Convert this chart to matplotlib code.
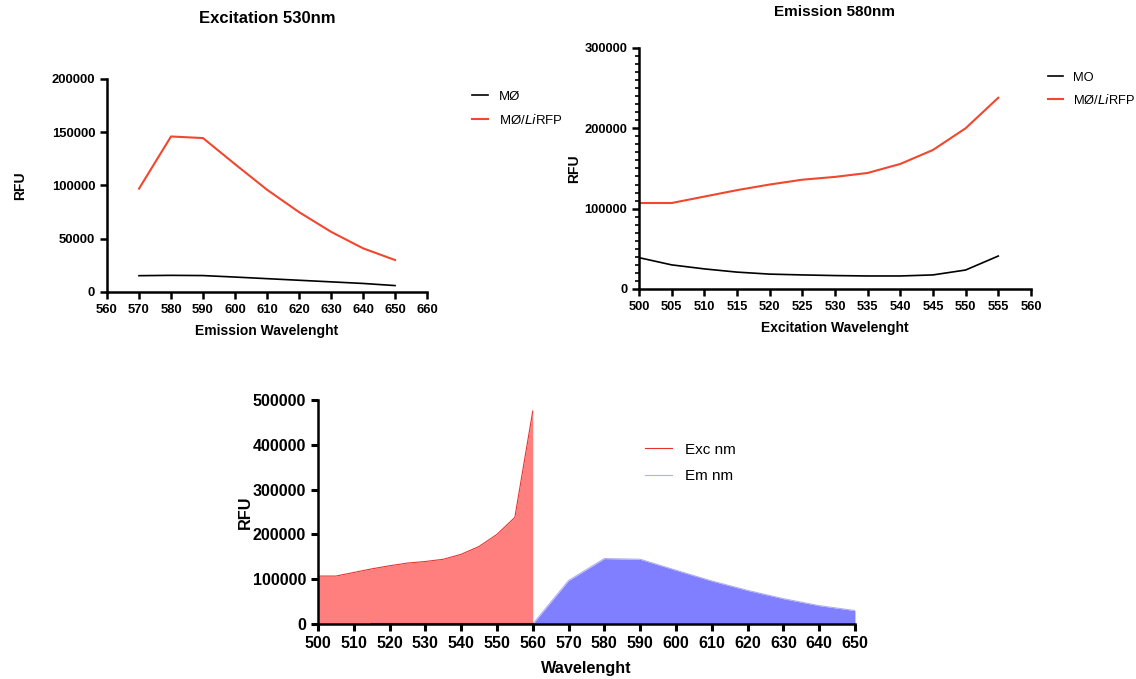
import numpy as np
import matplotlib
matplotlib.use("Agg")
import matplotlib.pyplot as plt
from matplotlib.ticker import MultipleLocator

plt.rcParams['font.family'] = ['Liberation Sans', 'DejaVu Sans']

# =========================
# DATA
# =========================
# Excitation 530nm -> emission scan
em_wl = [570, 580, 590, 600, 610, 620, 630, 640, 650]
em_mo = [15300, 15600, 15400, 14000, 12500, 11000, 9500, 8000, 6000]
em_rfp = [97000, 146000, 144500, 120000, 96000, 75000, 56500, 41000, 30000]

# Emission 580nm -> excitation scan
ex_wl = [500, 505, 510, 515, 520, 525, 530, 535, 540, 545, 550, 555]
ex_mo = [39000, 30000, 25000, 21000, 18500, 17500, 16700, 16200, 16200, 17500, 23600, 41000]
ex_rfp = [107000, 107000, 115000, 123000, 130000, 136000, 139500, 144400, 155600, 173000, 200000, 238000]

# Combined spectrum
exc_wl = [500, 505, 510, 515, 520, 525, 530, 535, 540, 545, 550, 555, 560]
exc_rfu = [107000, 107000, 115000, 123000, 130000, 136000, 139500, 144400, 155600, 173000, 200000, 238000, 475000]
emc_wl = [560, 570, 580, 590, 600, 610, 620, 630, 640, 650]
emc_rfu = [0, 97000, 146000, 144500, 120000, 96000, 75000, 56500, 41000, 30000]

RED = "#f0472e"


def style_axes(ax, size):
    for s in ["top", "right"]:
        ax.spines[s].set_visible(False)
    for s in ["left", "bottom"]:
        ax.spines[s].set_linewidth(1.8)
    ax.tick_params(width=1.8, length=5, labelsize=size)
    ax.tick_params(which="minor", width=1.2, length=3)
    for lab in ax.get_xticklabels() + ax.get_yticklabels():
        lab.set_fontweight("bold")


fig = plt.figure(figsize=(11.36, 6.79), dpi=100)

# =========================
# TOP LEFT: Excitation 530nm
# =========================
ax1 = fig.add_axes([0.0942, 0.570, 0.2817, 0.3137])
ax1.plot(em_wl, em_mo, color="black", lw=1.2, label="MØ")
ax1.plot(em_wl, em_rfp, color=RED, lw=1.5, label="MØ/$\\it{Li}$RFP")
ax1.set_xlim(560, 660)
ax1.set_ylim(0, 200000)
ax1.set_xticks(np.arange(560, 661, 10))
ax1.set_yticks(np.arange(0, 200001, 50000))
style_axes(ax1, 9.4)
ax1.set_xlabel("Emission Wavelenght", fontsize=10, fontweight="bold", labelpad=6)
ax1.set_ylabel("RFU", fontsize=10, fontweight="bold", labelpad=18)
ax1.set_title("Excitation 530nm", fontsize=12, fontweight="bold", pad=40)
ax1.legend(loc="upper left", bbox_to_anchor=(1.105, 1.0), frameon=False,
           fontsize=9.5, handlelength=1.2, labelspacing=0.75)

# =========================
# TOP RIGHT: Emission 580nm
# =========================
ax2 = fig.add_axes([0.5625, 0.5744, 0.345, 0.355])
ax2.plot(ex_wl, ex_mo, color="black", lw=1.2, label="MO")
ax2.plot(ex_wl, ex_rfp, color=RED, lw=1.5, label="MØ/$\\it{Li}$RFP")
ax2.set_xlim(500, 560)
ax2.set_ylim(0, 300000)
ax2.set_xticks(np.arange(500, 561, 5))
ax2.set_yticks(np.arange(0, 300001, 100000))
ax2.yaxis.set_minor_locator(MultipleLocator(10000))
style_axes(ax2, 9.3)
ax2.set_xlabel("Excitation Wavelenght", fontsize=10, fontweight="bold", labelpad=6)
ax2.set_ylabel("RFU", fontsize=10, fontweight="bold", labelpad=2)
ax2.set_title("Emission 580nm", fontsize=11, fontweight="bold", pad=23)
ax2.legend(loc="upper left", bbox_to_anchor=(1.013, 0.95), frameon=False,
           fontsize=9.3, handlelength=1.2, labelspacing=0.7)

# =========================
# BOTTOM: combined area
# =========================
ax3 = fig.add_axes([0.2799, 0.081, 0.4727, 0.33])
ax3.fill_between(exc_wl, exc_rfu, color="#ff7f7f", lw=0)
ax3.plot(exc_wl, exc_rfu, color="#e8322e", lw=0.8, label="Exc nm")
ax3.fill_between(emc_wl, emc_rfu, color="#7f7fff", lw=0)
ax3.plot(emc_wl, emc_rfu, color="#b0b0f0", lw=0.8, label="Em nm")
ax3.plot([515, 560], [0, 0], color="#22205a", lw=1.5)
ax3.set_xlim(500, 650)
ax3.set_ylim(0, 500000)
ax3.set_xticks(np.arange(500, 651, 10))
ax3.set_yticks(np.arange(0, 500001, 100000))
style_axes(ax3, 11.5)
ax3.tick_params(width=2.2)
ax3.set_xlabel("Wavelenght", fontsize=11.7, fontweight="bold", labelpad=7)
ax3.set_ylabel("RFU", fontsize=11.7, fontweight="bold", labelpad=0)
ax3.legend(loc="upper left", bbox_to_anchor=(0.583, 0.87), frameon=False,
           fontsize=11, handlelength=1.8, labelspacing=0.8)

fig.savefig("out.png", dpi=100)
